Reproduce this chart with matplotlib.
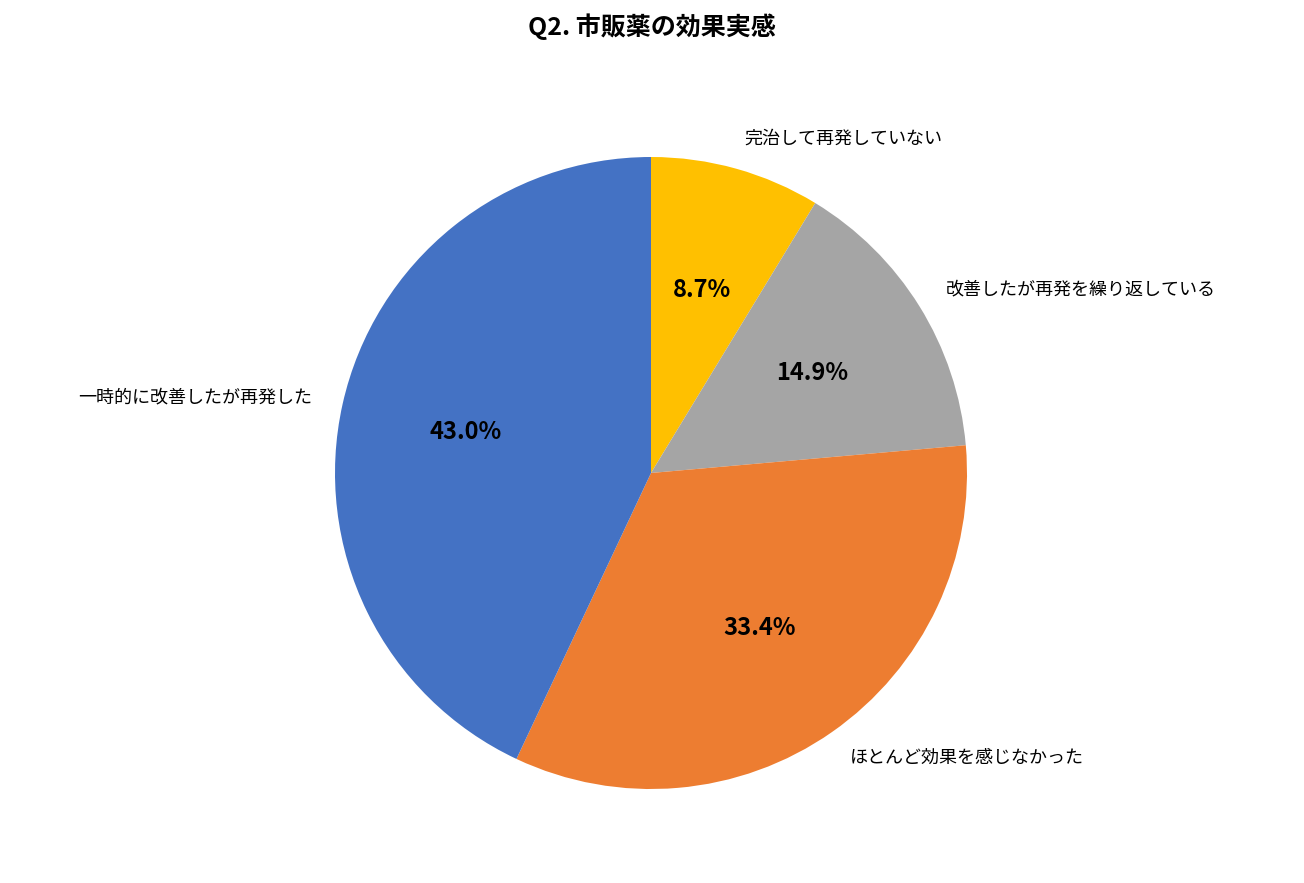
import matplotlib
matplotlib.use("Agg")
import matplotlib.pyplot as plt

plt.rcParams['font.family'] = ['Noto Sans CJK JP', 'DejaVu Sans']

labels = ['完治して再発していない', '改善したが再発を繰り返している', 'ほとんど効果を感じなかった', '一時的に改善したが再発した']
values = [8.7, 14.9, 33.4, 43.0]
colors = ['#FFC000', '#A5A5A5', '#ED7D31', '#4472C4']
title = 'Q2. 市販薬の効果実感'

W, H = 1304, 883
fig = plt.figure(figsize=(W/100, H/100), dpi=100)
side = 800
cx, cy = 651, 473
ax = fig.add_axes([(cx - side/2)/W, (H - cy - side/2)/H, side/W, side/H])
r = 316
lim = side / 2 / r
ax.pie(values, labels=labels, colors=colors, startangle=90, counterclock=False,
       autopct='%1.1f%%', pctdistance=0.6, labeldistance=1.1,
       textprops={'fontsize': 13},
       wedgeprops={'linewidth': 0})
for t in ax.texts:
    if t.get_text().endswith('%'):
        t.set_fontsize(17)
        t.set_fontweight('bold')
ax.set_xlim(-lim, lim)
ax.set_ylim(-lim, lim)
ax.set_aspect('equal')
ax.axis('off')
fig.text(0.5, 1 - 27/H, title, ha='center', va='center', fontsize=18, fontweight='bold')
fig.savefig('out.png', dpi=100, facecolor='white')
